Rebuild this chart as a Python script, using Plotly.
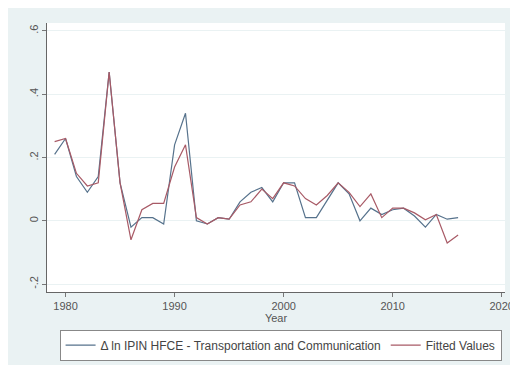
import plotly.graph_objects as go

# Annual log change, IPIN HFCE transportation & communication, with fitted values
years = list(range(1979, 2017))

actual = [
    0.21, 0.26, 0.14, 0.09, 0.14, 0.47, 0.12, -0.02, 0.01, 0.01,
    -0.01, 0.24, 0.34, 0.00, -0.01, 0.01, 0.005, 0.06, 0.09, 0.105,
    0.06, 0.12, 0.12, 0.01, 0.01, 0.065, 0.12, 0.085, 0.00, 0.04,
    0.02, 0.035, 0.04, 0.015, -0.02, 0.02, 0.005, 0.01,
]

fitted = [
    0.25, 0.26, 0.15, 0.11, 0.12, 0.47, 0.12, -0.06, 0.035, 0.055,
    0.055, 0.17, 0.24, 0.01, -0.01, 0.01, 0.005, 0.05, 0.06, 0.10,
    0.07, 0.12, 0.11, 0.07, 0.05, 0.08, 0.12, 0.09, 0.045, 0.085,
    0.01, 0.04, 0.04, 0.025, 0.003, 0.02, -0.07, -0.045,
]

y_ticks = [-0.2, 0, 0.2, 0.4, 0.6]
y_tick_labels = ["-.2", "0", ".2", ".4", ".6"]
x_ticks = [1980, 1990, 2000, 2010, 2020]

fig = go.Figure()
fig.add_trace(go.Scatter(
    x=years, y=actual, mode="lines",
    name="\u0394 ln IPIN HFCE - Transportation and Communication",
    line=dict(color="#56728c", width=1.2),
))
fig.add_trace(go.Scatter(
    x=years, y=fitted, mode="lines",
    name="Fitted Values",
    line=dict(color="#a85a66", width=1.2),
))

fig.update_layout(
    width=518, height=365,
    margin=dict(l=39, r=13, t=15, b=78),
    paper_bgcolor="#eaf2f3",
    plot_bgcolor="white",
    font=dict(family="Liberation Sans, Arial, sans-serif", size=11, color="#555555"),
    showlegend=True,
    legend=dict(
        orientation="h",
        x=0.51, xanchor="center",
        y=-0.14, yanchor="top",
        bgcolor="white",
        bordercolor="#888888", borderwidth=1,
        font=dict(size=12, color="#444444"),
        itemwidth=30,
        tracegroupgap=0,
    ),
)

fig.update_xaxes(
    range=[1978.3, 2020.3],
    tickvals=x_ticks,
    ticks="outside", ticklen=4, tickcolor="#777777",
    showline=True, linecolor="#666666", linewidth=1,
    showgrid=False, zeroline=False,
    title=dict(text="Year", standoff=1, font=dict(size=11)),
)
fig.update_yaxes(
    range=[-0.225, 0.625],
    tickvals=y_ticks, ticktext=y_tick_labels,
    tickangle=-90,
    ticks="outside", ticklen=4, tickcolor="#777777",
    showline=True, linecolor="#666666", linewidth=1,
    showgrid=True, gridcolor="#eaf2f3", gridwidth=1,
    zeroline=False,
)

fig.write_html("out.html")
